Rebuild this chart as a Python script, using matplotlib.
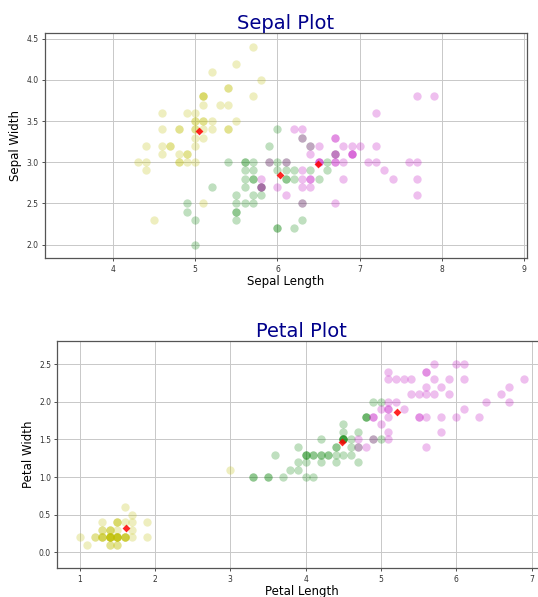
import matplotlib
matplotlib.use('Agg')
import matplotlib.pyplot as plt

# cluster 0 (yellow): sepal length, sepal width, petal length, petal width
y_sl = [5.1, 4.9, 4.7, 4.6, 5.0, 5.4, 4.6, 5.0, 4.4, 4.9, 5.4, 4.8, 4.8, 4.3, 5.8, 5.7, 5.4,
        5.1, 5.7, 5.1, 5.4, 5.1, 4.6, 5.1, 4.8, 5.0, 5.0, 5.2, 5.2, 4.7, 4.8, 5.4, 5.2, 5.5,
        4.9, 5.0, 5.5, 4.9, 4.4, 5.1, 5.0, 4.5, 4.4, 5.0, 5.1, 4.8, 5.1, 4.6, 5.3, 5.0, 5.1]
y_sw = [3.5, 3.0, 3.2, 3.1, 3.6, 3.9, 3.4, 3.4, 2.9, 3.1, 3.7, 3.4, 3.0, 3.0, 4.0, 4.4, 3.9,
        3.5, 3.8, 3.8, 3.4, 3.7, 3.6, 3.3, 3.4, 3.0, 3.4, 3.5, 3.4, 3.2, 3.1, 3.4, 4.1, 4.2,
        3.1, 3.2, 3.5, 3.6, 3.0, 3.4, 3.5, 2.3, 3.2, 3.5, 3.8, 3.0, 3.8, 3.2, 3.7, 3.3, 2.5]
y_pl = [1.4, 1.4, 1.3, 1.5, 1.4, 1.7, 1.4, 1.5, 1.4, 1.5, 1.5, 1.6, 1.4, 1.1, 1.2, 1.5, 1.3,
        1.4, 1.7, 1.5, 1.7, 1.5, 1.0, 1.7, 1.9, 1.6, 1.6, 1.5, 1.4, 1.6, 1.6, 1.5, 1.5, 1.4,
        1.5, 1.2, 1.3, 1.4, 1.3, 1.5, 1.3, 1.3, 1.3, 1.6, 1.9, 1.4, 1.6, 1.4, 1.5, 1.4, 3.0]
y_pw = [0.2, 0.2, 0.2, 0.2, 0.2, 0.4, 0.3, 0.2, 0.2, 0.1, 0.2, 0.2, 0.1, 0.1, 0.2, 0.4, 0.4,
        0.3, 0.3, 0.3, 0.2, 0.4, 0.2, 0.5, 0.2, 0.2, 0.4, 0.2, 0.2, 0.2, 0.2, 0.4, 0.1, 0.2,
        0.2, 0.2, 0.2, 0.1, 0.2, 0.2, 0.3, 0.3, 0.2, 0.6, 0.4, 0.3, 0.2, 0.2, 0.2, 0.2, 1.1]

# cluster 1 (green)
g_sl = [6.4, 5.5, 6.5, 5.7, 6.3, 4.9, 6.6, 5.2, 5.0, 5.9, 6.0, 6.1, 5.6, 6.7, 5.6, 5.8, 6.2,
        5.6, 5.9, 6.1, 6.3, 6.1, 6.4, 6.6, 6.0, 5.7, 5.5, 5.5, 5.8, 5.4, 6.0, 6.3, 5.6, 5.5,
        5.5, 6.1, 5.8, 5.0, 5.6, 5.7, 5.7, 6.2, 5.7, 4.9, 5.7, 6.0, 5.6, 6.2, 6.0]
g_sw = [3.2, 2.3, 2.8, 2.8, 3.3, 2.4, 2.9, 2.7, 2.0, 3.0, 2.2, 2.9, 2.9, 3.1, 3.0, 2.7, 2.2,
        2.5, 3.2, 2.8, 2.5, 2.8, 2.9, 3.0, 2.9, 2.6, 2.4, 2.4, 2.7, 3.0, 3.4, 2.3, 3.0, 2.5,
        2.6, 3.0, 2.6, 2.3, 2.7, 3.0, 2.9, 2.9, 2.8, 2.5, 2.5, 2.2, 2.8, 2.8, 3.0]
g_pl = [4.5, 4.0, 4.6, 4.5, 4.7, 3.3, 4.6, 3.9, 3.5, 4.2, 4.0, 4.7, 3.6, 4.4, 4.5, 4.1, 4.5,
        3.9, 4.8, 4.0, 4.9, 4.7, 4.3, 4.4, 4.5, 3.5, 3.8, 3.7, 3.9, 4.5, 4.5, 4.4, 4.1, 4.0,
        4.4, 4.6, 4.0, 3.3, 4.2, 4.2, 4.2, 4.3, 4.1, 4.5, 5.0, 5.0, 4.9, 4.8, 4.8]
g_pw = [1.5, 1.3, 1.5, 1.3, 1.6, 1.0, 1.3, 1.4, 1.0, 1.5, 1.0, 1.4, 1.3, 1.4, 1.5, 1.0, 1.5,
        1.1, 1.8, 1.3, 1.5, 1.2, 1.3, 1.4, 1.5, 1.0, 1.1, 1.0, 1.2, 1.5, 1.6, 1.3, 1.3, 1.3,
        1.2, 1.4, 1.2, 1.0, 1.3, 1.2, 1.3, 1.3, 1.3, 1.7, 2.0, 1.5, 2.0, 1.8, 1.8]

# cluster 2 (magenta)
m_sl = [7.0, 6.9, 6.8, 6.7, 6.0, 6.7, 6.3, 5.8, 7.1, 6.3, 6.5, 7.6, 7.3, 6.7, 7.2, 6.5, 6.4,
        6.8, 5.8, 6.4, 6.5, 7.7, 7.7, 6.9, 7.7, 6.3, 6.7, 7.2, 6.1, 6.4, 7.2, 7.4, 7.9, 6.4,
        6.3, 6.1, 7.7, 6.3, 6.4, 6.9, 6.7, 6.9, 5.8, 6.8, 6.7, 6.7, 6.3, 6.5, 6.2, 5.9]
m_sw = [3.2, 3.1, 2.8, 3.0, 2.7, 3.1, 3.3, 2.7, 3.0, 2.9, 3.0, 3.0, 2.9, 2.5, 3.6, 3.2, 2.7,
        3.0, 2.8, 3.2, 3.0, 3.8, 2.6, 3.2, 2.8, 2.7, 3.3, 3.2, 3.0, 2.8, 3.0, 2.8, 3.8, 2.8,
        2.8, 2.6, 3.0, 3.4, 3.1, 3.1, 3.1, 3.1, 2.7, 3.2, 3.3, 3.0, 2.5, 3.0, 3.4, 3.0]
m_pl = [4.7, 4.9, 4.8, 5.0, 5.1, 4.7, 6.0, 5.1, 5.9, 5.6, 5.8, 6.6, 6.3, 5.8, 6.1, 5.1, 5.3,
        5.5, 5.1, 5.3, 5.5, 6.7, 6.9, 5.7, 6.7, 4.9, 5.7, 6.0, 4.9, 5.6, 5.8, 6.1, 6.4, 5.6,
        5.1, 5.6, 6.1, 5.6, 5.5, 5.4, 5.6, 5.1, 5.1, 5.9, 5.7, 5.2, 5.0, 5.2, 5.4, 5.1]
m_pw = [1.4, 1.5, 1.4, 1.7, 1.6, 1.5, 2.5, 1.9, 2.1, 1.8, 2.2, 2.1, 1.8, 1.8, 2.5, 2.0, 1.9,
        2.1, 2.4, 2.3, 1.8, 2.2, 2.3, 2.3, 2.0, 1.8, 2.1, 1.8, 1.8, 2.1, 1.6, 1.9, 2.0, 2.2,
        1.5, 1.4, 2.3, 2.4, 1.8, 2.1, 2.4, 2.3, 1.9, 2.3, 2.5, 2.3, 1.9, 2.0, 2.3, 1.8]

# cluster centres (red markers)
c_sl = [5.05, 6.03, 6.49]
c_sw = [3.38, 2.84, 2.98]
c_pl = [1.62, 4.48, 5.22]
c_pw = [0.32, 1.47, 1.86]

clusters = [('y', y_sl, y_sw, y_pl, y_pw),
            ('g', g_sl, g_sw, g_pl, g_pw),
            ('m', m_sl, m_sw, m_pl, m_pw)]

fig = plt.figure(figsize=(5.38, 5.97), dpi=100)
W, H = 538.0, 597.0

def style(ax, title, xlabel, ylabel):
    ax.grid(True, color='#c8c8c8', linewidth=0.7)
    ax.set_axisbelow(True)
    ax.set_title(title, fontsize=14, color='darkblue', pad=3)
    ax.set_xlabel(xlabel, fontsize=8.5, labelpad=1)
    ax.set_ylabel(ylabel, fontsize=8.5, labelpad=3)
    ax.tick_params(labelsize=5.5, length=2.5, width=0.6, colors='#333333', pad=2)
    for sp in ax.spines.values():
        sp.set_color('#555555')
        sp.set_linewidth(0.9)

# sepal plot
ax1 = fig.add_axes([44.6 / W, (H - 258.3) / H, 482.2 / W, 225 / H])
for col, sl, sw, pl, pw in clusters:
    ax1.scatter(sl, sw, s=36, c=col, alpha=0.25, linewidths=0)
ax1.scatter(c_sl, c_sw, s=16, c='red', marker='D', alpha=0.85, linewidths=0)
ax1.set_xlim(3.17, 9.03)
ax1.set_ylim(1.833, 4.567)
ax1.set_xticks([4, 5, 6, 7, 8, 9])
ax1.set_yticks([2.0, 2.5, 3.0, 3.5, 4.0, 4.5])
style(ax1, 'Sepal Plot', 'Sepal Length', 'Sepal Width')

# petal plot
ax2 = fig.add_axes([57.3 / W, (H - 568.3) / H, 489 / W, 227.6 / H])
for col, sl, sw, pl, pw in clusters:
    ax2.scatter(pl, pw, s=36, c=col, alpha=0.25, linewidths=0)
ax2.scatter(c_pl, c_pw, s=16, c='red', marker='D', alpha=0.85, linewidths=0)
ax2.set_xlim(0.705, 7.195)
ax2.set_ylim(-0.21, 2.81)
ax2.set_xticks([1, 2, 3, 4, 5, 6, 7])
ax2.set_yticks([0.0, 0.5, 1.0, 1.5, 2.0, 2.5])
style(ax2, 'Petal Plot', 'Petal Length', 'Petal Width')

fig.savefig('out.png', dpi=100)
